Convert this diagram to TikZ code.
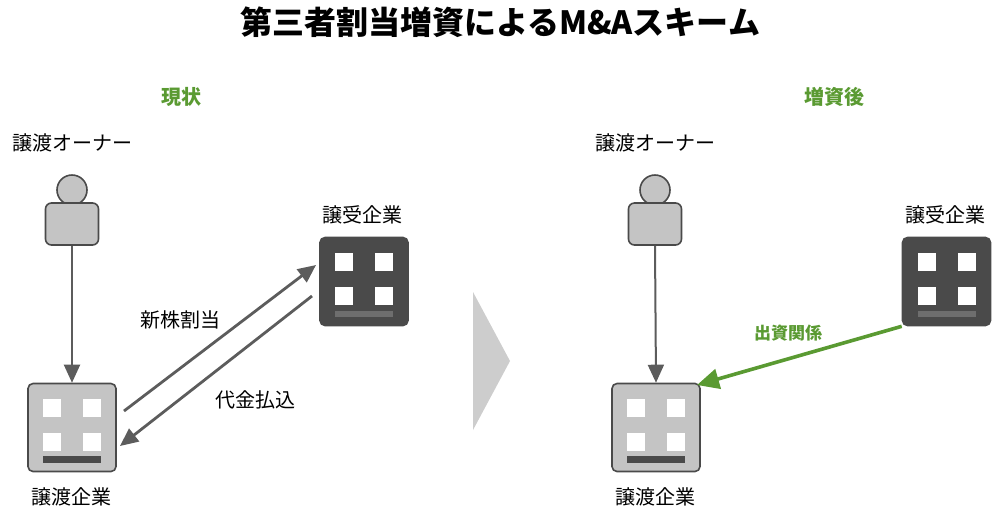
\documentclass[tikz,border=0pt]{standalone}
\usepackage{fontspec}
\setmainfont{Noto Sans CJK JP}
\newfontfamily\jpb{Noto Sans CJK JP}[FakeBold=0]
\usetikzlibrary{arrows.meta}
\definecolor{grn}{HTML}{5A9A32}
\definecolor{dk}{HTML}{4A4A4A}
\definecolor{lg}{HTML}{C4C4C4}
\tikzset{
 lbl/.style={font=\fontsize{10}{12}\selectfont, text=black},
 ttl/.style={font=\bfseries\fontsize{10}{12}\selectfont, text=grn},
 conn/.style={draw=dk!90, line width=1.4pt, -{Triangle[length=9pt,width=8pt]}},
}
\newcommand{\company}[4]{% x y fill name
 \node[draw=dk, line width=0.8pt, fill=#3, rounded corners=2.5pt, minimum size=44pt, inner sep=0] (#4) at (#1,#2) {};
 \fill[white] (#1-29,#2-29) rectangle ++(18,18);
 \fill[white] (#1+11,#2-29) rectangle ++(18,18);
 \fill[white] (#1-29,#2+5) rectangle ++(18,18);
 \fill[white] (#1+11,#2+5) rectangle ++(18,18);
}
\newcommand{\person}[3]{% x y name
 \draw[dk, line width=0.8pt, fill=lg] (#1,#2) circle (15);
 \node[draw=dk, line width=0.8pt, fill=lg, rounded corners=3pt, minimum width=26.5pt, minimum height=21pt, inner sep=0] (#3) at (#1,224) {};
}
\begin{document}
\begin{tikzpicture}[x=0.5pt,y=-0.5pt]
\useasboundingbox (0,0) rectangle (1000,516);
\node[font=\bfseries\fontsize{16}{18}\selectfont] (title) at (500,22) {第三者割当増資によるM\&Aスキーム};
\node[ttl] (h1) at (181,97) {現状};
\node[ttl] (h2) at (834,97) {増資後};
% left
\node[lbl] (o1) at (72,143) {譲渡オーナー};
\person{72}{190}{p1}
\company{72}{427.5}{lg}{c1}
\fill[dk] (43,456) rectangle (101,463);
\node[lbl] (l1) at (72,497) {譲渡企業};
\company{364}{281.5}{dk}{c2}
\fill[dk!80] (335,311) rectangle (393,317);
\node[lbl] (l2) at (362,215) {譲受企業};
\draw[conn, line width=1pt] (p1.south) -- (c1.north);
\coordinate (a1) at (124,411); \coordinate (a2) at (316,265);
\coordinate (b1) at (312,296); \coordinate (b2) at (120,446);
\draw[conn] (a1) -- (a2);
\draw[conn] (b1) -- (b2);
\node[lbl] (t1) at (180,320) {新株割当};
\node[lbl] (t2) at (255,400) {代金払込};
% chevron
\fill[lg!85] (473,292) -- (510,361) -- (473,430) -- cycle;
% right
\node[lbl] (o2) at (655,143) {譲渡オーナー};
\person{655}{190}{p2}
\company{656}{427.5}{lg}{c3}
\fill[dk] (627,456) rectangle (685,463);
\node[lbl] (l3) at (655,497) {譲渡企業};
\company{946.5}{281.5}{dk}{c4}
\fill[dk!80] (918,311) rectangle (976,317);
\node[lbl] (l4) at (945,215) {譲受企業};
\draw[conn, line width=1pt] (p2.south) -- (c3.north);
\draw[draw=grn, line width=1.8pt, -{Triangle[length=11pt,width=10pt]}] (c4.south west) -- (697,385);
\node[font=\bfseries\fontsize{8.5}{10}\selectfont, text=grn] (t3) at (788,333) {出資関係};
\end{tikzpicture}
\end{document}
